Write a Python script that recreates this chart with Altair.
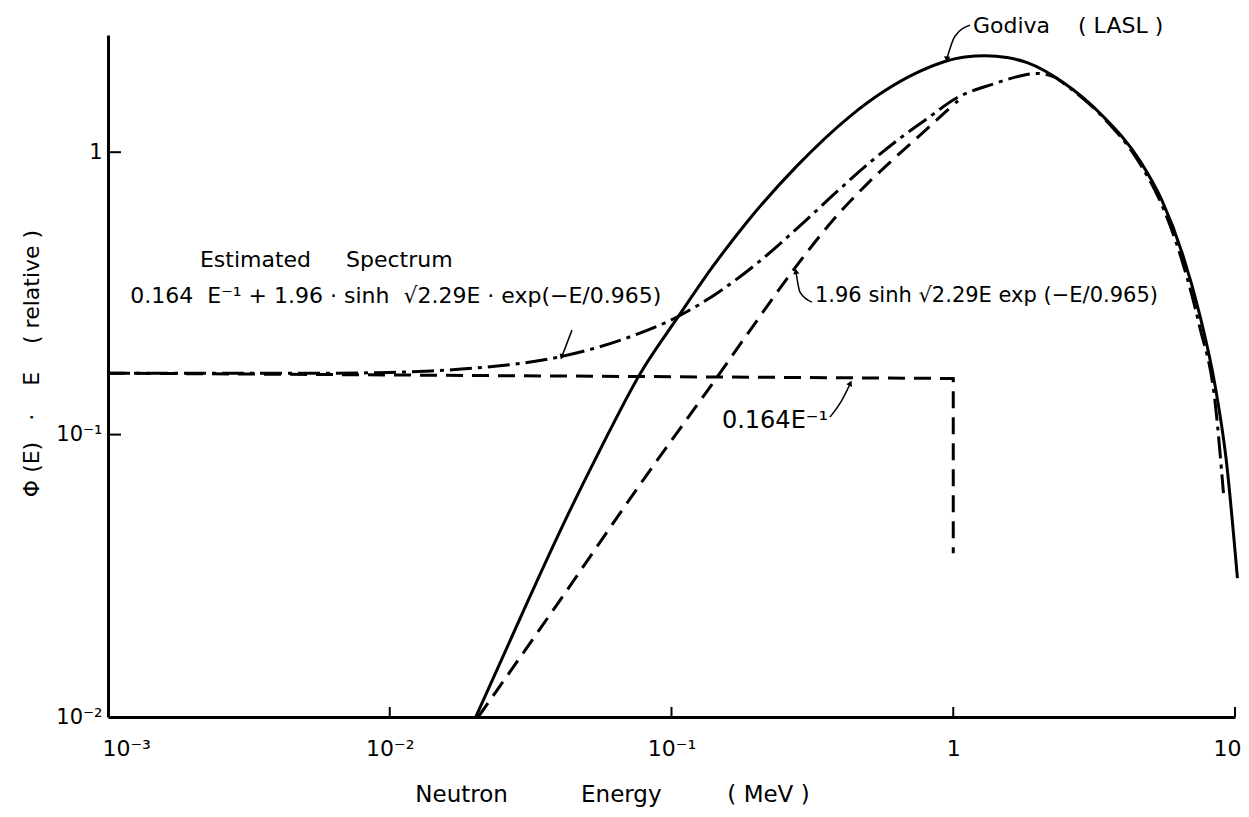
import altair as alt
import pandas as pd

# ---------------- data ----------------
# Godiva (LASL) measured spectrum  (solid)
godiva_E = [0.0202, 0.031, 0.040, 0.0557, 0.0773, 0.1055, 0.14, 0.1854, 0.28, 0.43, 0.564,
            0.75, 0.934, 1.1, 1.3, 1.55, 1.83, 2.45, 3.4, 4.6, 5.5, 6.5, 7.5, 8.5, 9.3, 10.2]
godiva_V = [0.010, 0.0259, 0.045, 0.0881, 0.164, 0.261, 0.393, 0.566, 0.898, 1.34, 1.636,
            1.92, 2.095, 2.172, 2.194, 2.163, 2.075, 1.768, 1.34, 0.932, 0.676, 0.438, 0.265,
            0.149, 0.082, 0.031]

# 1.96 sinh sqrt(2.29E) exp(-E/0.965)  (dashed)
fiss_E = [0.0206, 0.0402, 0.0793, 0.1427, 0.190, 0.28, 0.374, 0.5, 0.631, 0.8, 1.0, 1.04]
fiss_V = [0.010, 0.0259, 0.069, 0.156, 0.234, 0.40, 0.574, 0.78, 0.97, 1.20, 1.47, 1.52]

# Estimated spectrum 0.164/E + 1.96 sinh ... (dash-dot)
est_E = [0.001, 0.006, 0.010, 0.014, 0.020, 0.0396, 0.0695, 0.1055, 0.15, 0.2, 0.3, 0.4,
         0.506, 0.65, 0.8, 1.031, 1.384, 1.725, 1.98, 2.3, 2.45, 3.4, 4.6, 5.5, 6.5, 7.5,
         8.5, 9.1]
est_V = [0.165, 0.165, 0.166, 0.168, 0.172, 0.188, 0.22, 0.262, 0.324, 0.402, 0.574, 0.748,
         0.92, 1.124, 1.305, 1.558, 1.742, 1.86, 1.90, 1.84, 1.76, 1.33, 0.91, 0.65, 0.41,
         0.24, 0.13, 0.062]

# 0.164 E^-1 term with cut-off at 1 MeV (dashed)
inv_E = [0.001, 1.0, 1.0]
inv_V = [0.165, 0.158, 0.038]

x_ticks = [0.001, 0.01, 0.1, 1, 10]
x_labels = ["10⁻³", "10⁻²", "10⁻¹", "1", "10"]
y_ticks = [0.01, 0.1, 1]
y_labels = ["10⁻²", "10⁻¹", "1"]

S = "\u00a0"
# annotations (data coordinates)
notes = [
    ("Estimated" + S * 5 + "Spectrum", 0.00212, 0.392, 22),
    ("0.164" + S * 2 + "E⁻¹ + 1.96 · sinh" + S * 2 + "√2.29E" + S + "·" + S + "exp(−E/0.965)",
     0.00120, 0.292, 22),
    ("1.96 sinh" + S + "√2.29E" + S + "exp" + S + "(−E/0.965)", 0.323, 0.294, 21),
    ("0.164E⁻¹", 0.151, 0.1054, 24),
    ("Godiva" + S * 4 + "(" + S + "LASL" + S + ")", 1.175, 2.637, 22),
]
arrows = [  # (E list, V list, head angle)
    ([1.147, 1.014, 0.950], [2.817, 2.574, 2.151], 185),
    ([0.04434, 0.04087], [0.2344, 0.1896], 200),
    ([0.315, 0.2858, 0.2766], [0.2944, 0.3195, 0.376], 350),
    ([0.365, 0.4027, 0.43], [0.1153, 0.1325, 0.151], 25),
]

FONT = "DejaVu Sans"
W, H = 1127, 682


def lut(vals, labs):
    pairs = ",".join(f"'{v}':'{l}'" for v, l in zip(vals, labs))
    return "{" + pairs + "}[''+datum.value]"


xscale = alt.Scale(type="log", domain=[0.001, 10])
yscale = alt.Scale(type="log", domain=[0.01, 2.6])

xaxis = alt.Axis(values=x_ticks, labelExpr=lut(x_ticks, x_labels), ticks=False, tickSize=0,
                 grid=False, domainColor="black", domainWidth=3, labelFont=FONT,
                 labelFontSize=22, labelColor="black", labelPadding=38,
                 labelBaseline="alphabetic", labelFlush=True, labelFlushOffset=6,
                 title="Neutron" + S * 10 + "Energy" + S * 9 + "(" + S + "MeV" + S + ")",
                 titleFont=FONT, titleFontSize=23,
                 titleFontWeight="normal", titleColor="black", titleX=504, titleY=84,
                 titleAlign="center", titleBaseline="alphabetic")
yaxis = alt.Axis(values=y_ticks, labelExpr=lut(y_ticks, y_labels), ticks=False, tickSize=0,
                 grid=False, domainColor="black", domainWidth=3, labelFont=FONT,
                 labelFontSize=21, labelColor="black", labelPadding=6, labelBaseline="middle",
                 title="Φ" + S + "(E)" + S * 3 + "·" + S * 4 + "E" + S * 4 + "(" + S + "relative" + S + ")",
                 titleFont=FONT, titleFontSize=22,
                 titleFontWeight="normal", titleColor="black", titleX=-70, titleY=328,
                 titleAlign="center", titleBaseline="alphabetic", titleAngle=270)


def X():
    return alt.X("E:Q", scale=xscale, axis=xaxis)


def Y():
    return alt.Y("V:Q", scale=yscale, axis=yaxis)


def series(E, V):
    return pd.DataFrame({"E": E, "V": V, "i": list(range(len(E)))})


def line(df, dash=None, interp="monotone", width=3):
    kw = dict(color="black", strokeWidth=width, interpolate=interp, strokeCap="butt")
    if dash:
        kw["strokeDash"] = dash
    return alt.Chart(df).mark_line(**kw).encode(x=X(), y=Y(), order=alt.Order("i:Q"))


layers = [
    line(series(inv_E, inv_V), dash=[17, 9], interp="linear"),
    line(series(est_E, est_V), dash=[22, 6, 4, 6]),
    line(series(fiss_E, fiss_V), dash=[17, 9]),
    line(series(godiva_E, godiva_V)),
]

# inward ticks
xt = pd.DataFrame({"E": x_ticks[1:]})
layers.append(alt.Chart(xt).mark_rule(color="black", strokeWidth=2).encode(
    x=alt.X("E:Q", scale=xscale, axis=xaxis), y=alt.value(H), y2=alt.value(H - 10)))
yt = pd.DataFrame({"V": y_ticks[1:]})
layers.append(alt.Chart(yt).mark_rule(color="black", strokeWidth=2).encode(
    y=alt.Y("V:Q", scale=yscale, axis=yaxis), x=alt.value(0), x2=alt.value(13)))

for txt, e, v, fs in notes:
    d = pd.DataFrame({"E": [e], "V": [v], "t": [txt]})
    layers.append(alt.Chart(d).mark_text(align="left", baseline="alphabetic", font=FONT,
                                         fontSize=fs, color="black").encode(
        x=X(), y=Y(), text="t:N"))

for E, V, ang in arrows:
    layers.append(line(series(E, V), interp="monotone", width=1.5))
    d = pd.DataFrame({"E": [E[-1]], "V": [V[-1]]})
    layers.append(alt.Chart(d).mark_point(shape="triangle", filled=True, size=40,
                                          color="black", opacity=1, angle=ang).encode(
        x=X(), y=Y()))

chart = alt.layer(*layers).properties(
    width=W, height=H,
    autosize=alt.AutoSizeParams(type="none"),
    padding={"left": 100, "top": 27, "right": 6, "bottom": 92},
    background="white",
).configure_view(stroke=None)

chart.save("out.html", embed_options={"renderer": "svg", "actions": False})
